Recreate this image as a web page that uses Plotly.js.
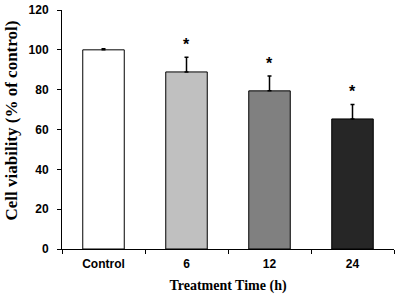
<!DOCTYPE html>
<html><head><meta charset="utf-8">
<script src="https://cdn.plot.ly/plotly-3.0.1.min.js"></script>
<style>html,body{margin:0;padding:0;background:#fff}</style>
</head><body>
<div id="chart" style="width:399px;height:294px"></div>
<script>
var categories = ["Control", "6", "12", "24"];
var viability = [100, 88.9, 79.4, 65.3];
var errors = [0.5, 7.4, 7.4, 7.3];
var significant = [false, true, true, true];
var barColors = ["#ffffff", "#c0c0c0", "#808080", "#262626"];
var yTicks = [0, 20, 40, 60, 80, 100, 120];
var yTitle = "Cell viability (% of control)";
var xTitle = "Treatment Time (h)";

var trace = {
  type: "bar",
  x: categories,
  y: viability,
  width: 0.5,
  marker: {color: barColors, line: {color: "#000", width: 1}},
  error_y: {type: "data", symmetric: false, array: errors,
            arrayminus: errors.map(function(){return 0;}),
            color: "#000", thickness: 1.5, width: 2},
  hoverinfo: "none"
};

var annotations = [];
categories.forEach(function(c, i){
  if (significant[i]) {
    annotations.push({x: i, y: viability[i] + errors[i], xref: "x", yref: "y",
      text: "*", showarrow: false, yanchor: "bottom", yshift: 2,
      font: {family: "Liberation Sans, Arial, sans-serif", size: 16, color: "#000", weight: 700}});
  }
});
annotations.push({xref: "paper", yref: "paper", x: 0, y: 0.5356,
  xanchor: "center", yanchor: "middle", xshift: -50.5, textangle: -90,
  text: yTitle, showarrow: false,
  font: {family: "Liberation Serif, Times New Roman, serif", size: 17, color: "#000", weight: 700}});

var layout = {
  width: 399, height: 294,
  margin: {l: 62, r: 5, t: 10, b: 45},
  paper_bgcolor: "#fff", plot_bgcolor: "#fff",
  showlegend: false,
  xaxis: {
    type: "category", range: [-0.5, 3.5], autorange: false,
    showline: true, linecolor: "#000", linewidth: 1,
    ticks: "outside", tickson: "boundaries", ticklen: 4, tickcolor: "#000",
    tickangle: 0, ticklabelstandoff: 4,
    showgrid: false, zeroline: false,
    tickfont: {family: "Liberation Sans, Arial, sans-serif", size: 12, color: "#000", weight: 700},
    title: {text: xTitle, standoff: 12,
            font: {family: "Liberation Serif, Times New Roman, serif", size: 14, color: "#000", weight: 700}}
  },
  yaxis: {
    range: [0, 120], autorange: false, tickvals: yTicks, ticktext: yTicks.map(String),
    showline: true, linecolor: "#000", linewidth: 1,
    ticks: "outside", ticklen: 4, tickcolor: "#000",
    ticklabelstandoff: 6,
    showgrid: false, zeroline: false,
    tickfont: {family: "Liberation Sans, Arial, sans-serif", size: 12, color: "#000", weight: 700}
  },
  annotations: annotations
};

Plotly.newPlot("chart", [trace], layout, {displayModeBar: false, staticPlot: true});
</script>
</body></html>
